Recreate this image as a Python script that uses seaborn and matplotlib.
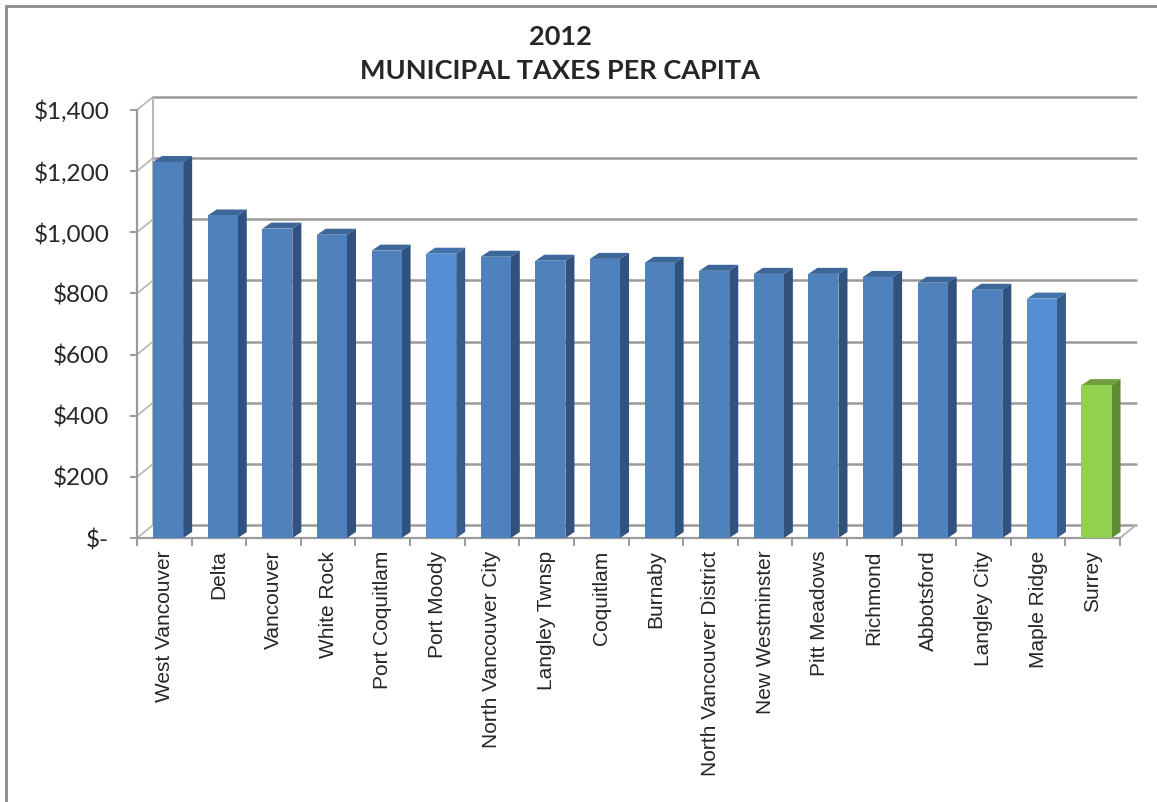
import numpy as np
import pandas as pd
import matplotlib
matplotlib.use('Agg')
import matplotlib.pyplot as plt
from matplotlib.patches import Polygon
from matplotlib.lines import Line2D
import seaborn as sns

# data
cities = ['West Vancouver', 'Delta', 'Vancouver', 'White Rock', 'Port Coquitlam',
          'Port Moody', 'North Vancouver City', 'Langley Twnsp', 'Coquitlam',
          'Burnaby', 'North Vancouver District', 'New Westminster', 'Pitt Meadows',
          'Richmond', 'Abbotsford', 'Langley City', 'Maple Ridge', 'Surrey']
taxes = [1230, 1055, 1012, 992, 940, 930, 920, 907, 913, 900, 874, 864, 864,
         854, 835, 812, 783, 500]
yticks = [0, 200, 400, 600, 800, 1000, 1200, 1400]
ytick_labels = ['$-', '$200', '$400', '$600', '$800', '$1,000', '$1,200', '$1,400']

# front / side / top colours per bar group
BLUE = ('#4F81BD', '#31527E', '#3D6699')
LIGHT = ('#558ED5', '#365C8C', '#4171AA')
GREEN = ('#92D050', '#5E8A31', '#6FA03D')
highlight = {'Port Moody': LIGHT, 'Maple Ridge': LIGHT, 'Surrey': GREEN}
faces = [highlight.get(c, BLUE) for c in cities]

df = pd.DataFrame({'city': cities, 'tax': taxes})

sns.set_style('white')
plt.rcParams['font.family'] = ['Liberation Sans', 'DejaVu Sans']

W, H = 1157, 802
fig = plt.figure(figsize=(W / 100, H / 100), dpi=100)
ax_l, ax_r, ax_b, ax_t = 137, 1120, 538, 110
ax = fig.add_axes([ax_l / W, 1 - ax_b / H, (ax_r - ax_l) / W, (ax_b - ax_t) / H])

sns.barplot(data=df, x='city', y='tax', hue='city', palette=[f[0] for f in faces],
            legend=False, width=0.55, saturation=1, ax=ax, zorder=3,
            linewidth=0, edgecolor='none')

n = len(cities)
ax.set_xlim(-0.5, n - 0.5)
ax.set_ylim(0, 1400)

# pixel -> data conversions for the fake 3D depth
px_x = (n) / (ax_r - ax_l)
px_y = 1400 / (ax_b - ax_t)
wall_dx, wall_dy = 16 * px_x, 13 * px_y
bar_dx, bar_dy = 9 * px_x, 6 * px_y

grid_c = '#9A9A9A'
# back wall gridlines and side wall slants
for v in yticks:
    ax.plot([-0.5 + wall_dx, n - 0.5 + wall_dx], [v + wall_dy, v + wall_dy],
            color=grid_c, lw=1.8, zorder=1, clip_on=False)
    ax.plot([-0.5, -0.5 + wall_dx], [v, v + wall_dy], color='#B5B5B5', lw=1.2,
            zorder=1, clip_on=False)
ax.plot([-0.5 + wall_dx, -0.5 + wall_dx], [wall_dy, 1400 + wall_dy],
        color='#B5B5B5', lw=1.4, zorder=1, clip_on=False)
# floor right edge
ax.plot([n - 0.5, n - 0.5 + wall_dx], [0, wall_dy], color='#B5B5B5', lw=1.4,
        zorder=1, clip_on=False)

# shift bars slightly right and give them depth
for p, f in zip(ax.patches, faces):
    p.set_x(p.get_x() + 0.07)
    x0, w, h = p.get_x(), p.get_width(), p.get_height()
    x1 = x0 + w
    side = Polygon([(x1, 0), (x1 + bar_dx, bar_dy), (x1 + bar_dx, h + bar_dy), (x1, h)],
                   closed=True, facecolor=f[1], edgecolor='none', zorder=2.9,
                   clip_on=False)
    top = Polygon([(x0, h), (x0 + bar_dx, h + bar_dy), (x1 + bar_dx, h + bar_dy), (x1, h)],
                  closed=True, facecolor=f[2], edgecolor='none', zorder=2.9,
                  clip_on=False)
    ax.add_patch(side)
    ax.add_patch(top)

# axes styling
for s in ['top', 'right']:
    ax.spines[s].set_visible(False)
for s in ['left', 'bottom']:
    ax.spines[s].set_color(grid_c)
    ax.spines[s].set_linewidth(1.6)

ax.set_yticks(yticks)
ax.set_yticklabels(ytick_labels, fontsize=17.5, family=['Lato', 'DejaVu Sans'])
ax.set_xticks(np.arange(n))
ax.set_xticklabels(cities, rotation=90, fontsize=15)
ax.set_xticks(np.arange(n + 1) - 0.5, minor=True)
ax.tick_params(axis='y', which='major', direction='out', length=5, width=1.4,
               color=grid_c, pad=15, left=True)
ax.tick_params(axis='x', which='major', length=0, pad=9)
ax.tick_params(axis='x', which='minor', direction='out', length=6, width=1.4,
               color=grid_c, bottom=True)
ax.set_xlabel('')
ax.set_ylabel('')

# title
fig.text(560 / W, 1 - 37 / H, '2012', ha='center', va='center', fontsize=19.5,
         fontweight='bold', family=['Lato', 'DejaVu Sans'])
fig.text(560 / W, 1 - 71 / H, 'MUNICIPAL TAXES PER CAPITA', ha='center', va='center',
         fontsize=19.5, fontweight='bold', family=['Lato', 'DejaVu Sans'])

# chart frame (left and top edges visible)
fig.add_artist(Line2D([6 / W, 6 / W], [0, 1 - 6 / H], transform=fig.transFigure,
                      color='#8C8C8C', lw=2))
fig.add_artist(Line2D([6 / W, 1], [1 - 6 / H, 1 - 6 / H], transform=fig.transFigure,
                      color='#8C8C8C', lw=2))

fig.savefig('out.png', dpi=100)
